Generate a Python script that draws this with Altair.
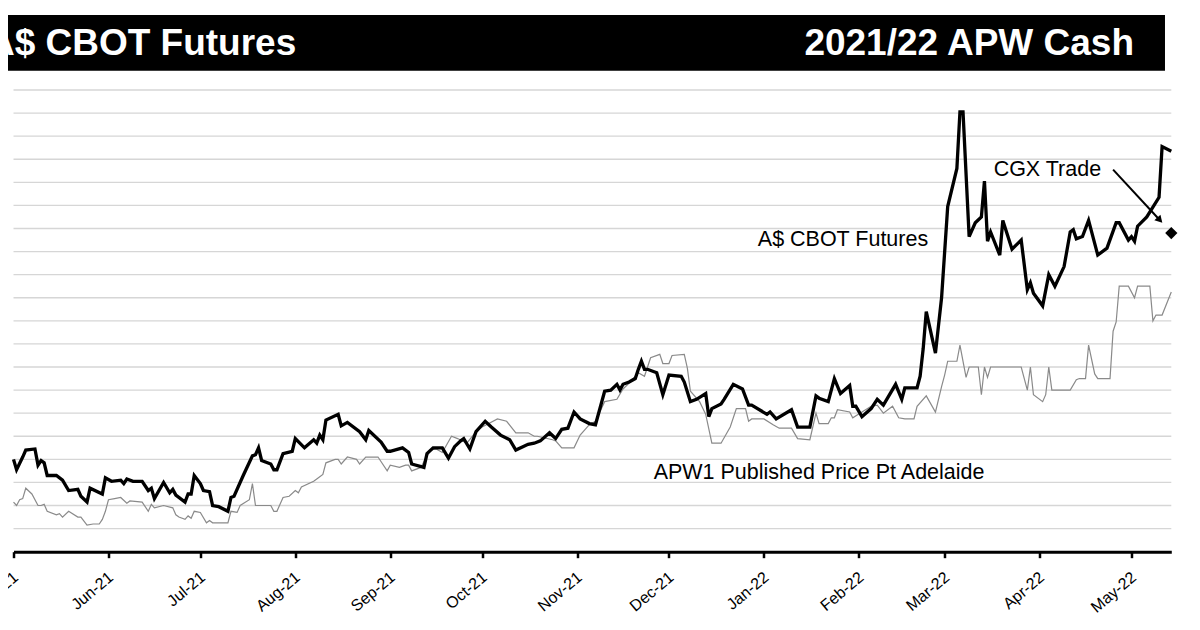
import altair as alt
import pandas as pd

# ---------------- data (A$/t) ----------------
fut_dates = [
    "2021-05-01", "2021-05-02", "2021-05-04", "2021-05-05", "2021-05-08", "2021-05-09", "2021-05-10",
    "2021-05-11", "2021-05-12", "2021-05-15", "2021-05-17", "2021-05-19", "2021-05-22", "2021-05-23",
    "2021-05-25", "2021-05-26", "2021-05-30", "2021-05-31", "2021-06-02", "2021-06-05", "2021-06-06",
    "2021-06-07", "2021-06-09", "2021-06-12", "2021-06-14", "2021-06-15", "2021-06-16", "2021-06-19",
    "2021-06-21", "2021-06-22", "2021-06-23", "2021-06-26", "2021-06-27", "2021-06-28", "2021-06-29",
    "2021-07-01", "2021-07-02", "2021-07-04", "2021-07-05", "2021-07-07", "2021-07-10", "2021-07-11",
    "2021-07-12", "2021-07-15", "2021-07-18", "2021-07-19", "2021-07-20", "2021-07-21", "2021-07-24",
    "2021-07-25", "2021-07-26", "2021-07-28", "2021-07-31", "2021-08-01", "2021-08-04", "2021-08-07",
    "2021-08-08", "2021-08-09", "2021-08-10", "2021-08-11", "2021-08-15", "2021-08-16", "2021-08-18",
    "2021-08-22", "2021-08-24", "2021-08-25", "2021-08-29", "2021-08-31", "2021-09-01", "2021-09-05",
    "2021-09-07", "2021-09-08", "2021-09-12", "2021-09-13", "2021-09-15", "2021-09-18", "2021-09-20",
    "2021-09-22", "2021-09-24", "2021-09-25", "2021-09-27", "2021-09-29", "2021-10-02", "2021-10-04",
    "2021-10-07", "2021-10-10", "2021-10-12", "2021-10-16", "2021-10-18", "2021-10-20", "2021-10-23",
    "2021-10-25", "2021-10-27", "2021-10-29", "2021-10-31", "2021-11-02", "2021-11-05", "2021-11-07",
    "2021-11-10", "2021-11-12", "2021-11-14", "2021-11-15", "2021-11-16", "2021-11-18", "2021-11-20",
    "2021-11-21", "2021-11-22", "2021-11-23", "2021-11-24", "2021-11-27", "2021-11-29", "2021-12-01",
    "2021-12-05", "2021-12-06", "2021-12-08", "2021-12-10", "2021-12-13", "2021-12-14", "2021-12-15",
    "2021-12-18", "2021-12-19", "2021-12-22", "2021-12-25", "2021-12-27", "2021-12-28", "2022-01-02",
    "2022-01-03", "2022-01-05", "2022-01-10", "2022-01-12", "2022-01-16", "2022-01-18", "2022-01-19",
    "2022-01-22", "2022-01-24", "2022-01-26", "2022-01-29", "2022-01-30", "2022-01-31", "2022-02-02",
    "2022-02-05", "2022-02-07", "2022-02-09", "2022-02-13", "2022-02-15", "2022-02-16", "2022-02-20",
    "2022-02-21", "2022-02-22", "2022-02-23", "2022-02-26", "2022-02-28", "2022-03-02", "2022-03-05",
    "2022-03-06", "2022-03-07", "2022-03-09", "2022-03-11", "2022-03-13", "2022-03-14", "2022-03-15",
    "2022-03-16", "2022-03-19", "2022-03-20", "2022-03-23", "2022-03-26", "2022-03-28", "2022-03-29",
    "2022-03-30", "2022-04-02", "2022-04-04", "2022-04-06", "2022-04-09", "2022-04-11", "2022-04-12",
    "2022-04-13", "2022-04-15", "2022-04-17", "2022-04-20", "2022-04-23", "2022-04-26", "2022-04-27",
    "2022-04-30", "2022-05-01", "2022-05-02", "2022-05-03", "2022-05-06", "2022-05-10", "2022-05-11",
    "2022-05-14",
]
fut_values = [
    330, 321, 332, 338, 339, 325, 329,
    327, 316, 316, 312, 303, 304, 298,
    293, 305, 300, 314, 311, 312, 309,
    313, 311, 311, 303, 305, 296, 310,
    301, 304, 299, 293, 300, 300, 316,
    309, 303, 302, 290, 289, 285, 297,
    298, 316, 333, 334, 340, 329, 326,
    321, 321, 335, 337, 348, 340, 347,
    344, 351, 347, 364, 369, 359, 362,
    354, 347, 355, 345, 337, 337, 340,
    336, 326, 323, 335, 340, 340, 331,
    341, 346, 348, 339, 354, 363, 358,
    351, 347, 338, 343, 344, 346, 353,
    348, 356, 357, 371, 365, 361, 360,
    389, 390, 395, 390, 395, 397, 400,
    408, 415, 408, 408, 405, 386, 403,
    402, 397, 380, 382, 387, 367, 374,
    378, 382, 395, 391, 377, 377, 369,
    371, 365, 373, 358, 358, 385, 383,
    380, 400, 387, 394, 376, 376, 367,
    374, 382, 377, 395, 382, 392, 392,
    402, 426, 458, 422, 470, 549, 582,
    631, 631, 523, 535, 540, 571, 519,
    527, 507, 537, 512, 520, 477, 483,
    474, 463, 490, 480, 497, 527, 529,
    521, 523, 537, 507, 513, 535, 535,
    520, 523, 519, 532, 540, 557, 601,
    597,
]

apw_dates = [
    "2021-05-01", "2021-05-02", "2021-05-03", "2021-05-04", "2021-05-05", "2021-05-07", "2021-05-09",
    "2021-05-10", "2021-05-11", "2021-05-12", "2021-05-15", "2021-05-16", "2021-05-17", "2021-05-19",
    "2021-05-22", "2021-05-23", "2021-05-25", "2021-05-27", "2021-05-29", "2021-05-30", "2021-05-31",
    "2021-06-01", "2021-06-03", "2021-06-05", "2021-06-07", "2021-06-08", "2021-06-12", "2021-06-14",
    "2021-06-15", "2021-06-16", "2021-06-19", "2021-06-22", "2021-06-23", "2021-06-24", "2021-06-26",
    "2021-06-27", "2021-06-28", "2021-06-29", "2021-07-01", "2021-07-03", "2021-07-04", "2021-07-05",
    "2021-07-10", "2021-07-11", "2021-07-13", "2021-07-14", "2021-07-17", "2021-07-18", "2021-07-19",
    "2021-07-24", "2021-07-25", "2021-07-26", "2021-07-28", "2021-07-30", "2021-08-01", "2021-08-02",
    "2021-08-03", "2021-08-07", "2021-08-08", "2021-08-10", "2021-08-11", "2021-08-14", "2021-08-15",
    "2021-08-16", "2021-08-18", "2021-08-21", "2021-08-22", "2021-08-24", "2021-08-28", "2021-08-31",
    "2021-09-01", "2021-09-04", "2021-09-06", "2021-09-07", "2021-09-08", "2021-09-11", "2021-09-14",
    "2021-09-16", "2021-09-18", "2021-09-21", "2021-09-23", "2021-09-26", "2021-09-29", "2021-10-01",
    "2021-10-06", "2021-10-09", "2021-10-12", "2021-10-16", "2021-10-18", "2021-10-19", "2021-10-24",
    "2021-10-25", "2021-10-27", "2021-10-31", "2021-11-02", "2021-11-05", "2021-11-07", "2021-11-10",
    "2021-11-14", "2021-11-16", "2021-11-18", "2021-11-21", "2021-11-23", "2021-11-25", "2021-11-28",
    "2021-11-29", "2021-12-01", "2021-12-02", "2021-12-06", "2021-12-07", "2021-12-08", "2021-12-11",
    "2021-12-13", "2021-12-15", "2021-12-18", "2021-12-21", "2021-12-23", "2021-12-26", "2021-12-27",
    "2021-12-28", "2022-01-01", "2022-01-04", "2022-01-06", "2022-01-10", "2022-01-12", "2022-01-16",
    "2022-01-18", "2022-01-19", "2022-01-22", "2022-01-23", "2022-01-24", "2022-01-25", "2022-01-29",
    "2022-01-30", "2022-02-02", "2022-02-05", "2022-02-07", "2022-02-09", "2022-02-12", "2022-02-14",
    "2022-02-16", "2022-02-19", "2022-02-20", "2022-02-23", "2022-02-26", "2022-02-28", "2022-03-01",
    "2022-03-02", "2022-03-05", "2022-03-06", "2022-03-08", "2022-03-09", "2022-03-12", "2022-03-13",
    "2022-03-14", "2022-03-15", "2022-03-16", "2022-03-26", "2022-03-28", "2022-03-29", "2022-03-30",
    "2022-04-02", "2022-04-03", "2022-04-04", "2022-04-05", "2022-04-11", "2022-04-13", "2022-04-14",
    "2022-04-16", "2022-04-17", "2022-04-19", "2022-04-20", "2022-04-24", "2022-04-25", "2022-04-26",
    "2022-04-27", "2022-04-30", "2022-05-02", "2022-05-03", "2022-05-07", "2022-05-08", "2022-05-09",
    "2022-05-11", "2022-05-14",
]
apw_values = [
    293, 290, 295, 296, 305, 300, 290,
    290, 291, 285, 282, 283, 280, 285,
    280, 280, 273, 274, 274, 278, 285,
    295, 296, 297, 292, 294, 293, 285,
    291, 288, 290, 288, 282, 280, 278,
    281, 279, 285, 284, 275, 277, 275,
    275, 285, 284, 290, 295, 309, 290,
    290, 285, 285, 297, 298, 303, 301,
    306, 311, 313, 317, 327, 330, 330,
    326, 332, 330, 326, 332, 332, 320,
    325, 323, 325, 325, 320, 323, 338,
    339, 336, 350, 348, 344, 354, 358,
    365, 363, 353, 353, 350, 350, 347,
    346, 340, 340, 351, 360, 363, 380,
    382, 391, 396, 405, 402, 418, 421,
    413, 413, 420, 421, 409, 389, 380,
    369, 344, 344, 358, 374, 374, 363,
    365, 365, 360, 357, 357, 348, 347,
    370, 361, 361, 366, 366, 373, 371,
    366, 371, 376, 377, 370, 376, 366,
    365, 365, 376, 385, 371, 393, 403,
    415, 415, 429, 401, 410, 410, 386,
    410, 401, 410, 410, 390, 410, 386,
    380, 386, 410, 390, 390, 399, 400,
    400, 429, 404, 400, 400, 441, 449,
    480, 480, 470, 480, 480, 450, 455,
    455, 475,
]

month_ticks = [
    "2021-05-01", "2021-06-01", "2021-07-01", "2021-08-01", "2021-09-01", "2021-10-01", "2021-11-01",
    "2021-12-01", "2022-01-01", "2022-02-01", "2022-03-01", "2022-04-01", "2022-05-01",
]
grid_values = [270, 290, 310, 330, 350, 370, 390, 410, 430, 450,
               470, 490, 510, 530, 550, 570, 590, 610, 630, 650]

label_texts = ["A$ CBOT Futures", "CGX Trade", "APW1 Published Price Pt Adelaide"]
label_dates = ["2021-12-30", "2022-03-17", "2021-11-26"]
label_values = [520, 581, 318]

cgx_trade_dates = ["2022-05-14"]
cgx_trade_values = [526]

arrow_from = ["2022-04-25", 581]
arrow_to = ["2022-05-10", 538]

header_left = "A$ CBOT Futures"
header_right = "2021/22 APW Cash"

# ---------------- chart ----------------
FONT = "Liberation Sans"


def dt(s):
    return alt.DateTime(year=int(s[:4]), month=int(s[5:7]), date=int(s[8:10]), utc=True)


fut_df = pd.DataFrame({"date": fut_dates, "value": fut_values})
apw_df = pd.DataFrame({"date": apw_dates, "value": apw_values})
lab_df = pd.DataFrame({"date": label_dates, "value": label_values, "text": label_texts})
cgx_df = pd.DataFrame({"date": cgx_trade_dates, "value": cgx_trade_values})
arr_df = pd.DataFrame({"date": [arrow_from[0]], "value": [arrow_from[1]],
                       "date2": [arrow_to[0]], "value2": [arrow_to[1]]})
head_df = pd.DataFrame({"date": [arrow_to[0]], "value": [arrow_to[1]]})
grid_df = pd.DataFrame({"value": grid_values})
title_df = pd.DataFrame({"left": [header_left], "right": [header_right]})

x_scale = alt.Scale(type="utc", domain=[dt("2021-05-01"), dt("2022-05-14")])
y_scale = alt.Scale(domain=[250, 650], nice=False, zero=False)

x_axis = alt.Axis(
    values=[dt(s) for s in month_ticks],
    labelExpr="utcFormat(datum.value, '%b-%y')",
    labelAngle=320, labelAlign="right", labelBaseline="top",
    labelFont=FONT, labelFontSize=16, labelColor="#000", labelPadding=11, labelOffset=-3,
    labelOverlap=False, labelFlush=False, labelBound=False,
    tickSize=6, tickWidth=2.5, tickColor="#000",
    domainColor="#000", domainWidth=3, grid=False, title=None,
)

X = alt.X("date:T", scale=x_scale, axis=x_axis)
Y = alt.Y("value:Q", scale=y_scale, axis=None)

grid = alt.Chart(grid_df).mark_rule(color="#d6d6d6", strokeWidth=1.3).encode(y=Y)

apw_line = alt.Chart(apw_df).mark_line(color="#8a8a8a", strokeWidth=1.2).encode(x=X, y=Y)
fut_line = alt.Chart(fut_df).mark_line(color="#000", strokeWidth=3.3).encode(x=X, y=Y)

cgx_point = alt.Chart(cgx_df).mark_point(shape="diamond", filled=True, size=150, color="#000",
                                         opacity=1).encode(x=X, y=Y)

arrow_line = alt.Chart(arr_df).mark_rule(color="#000", strokeWidth=2).encode(
    x=X, y=Y, x2="date2:T", y2="value2:Q")
arrow_head = alt.Chart(head_df).mark_point(shape="triangle", filled=True, size=70, angle=137,
                                           color="#000", opacity=1).encode(x=X, y=Y)

labels = alt.Chart(lab_df).mark_text(font=FONT, fontSize=21.5, align="left", baseline="middle",
                                     color="#000").encode(x=X, y=Y, text="text:N")

header_bar = alt.Chart(title_df).mark_rect(color="#000").encode(
    x=alt.value(-20), x2=alt.value(1151.5), y=alt.value(-75), y2=alt.value(-19.3))
header_l = alt.Chart(title_df).mark_text(font=FONT, fontSize=37, fontWeight="bold", color="#fff",
                                         align="left", baseline="alphabetic").encode(
    x=alt.value(-25.5), y=alt.value(-35), text="left:N")
header_r = alt.Chart(title_df).mark_text(font=FONT, fontSize=37, fontWeight="bold", color="#fff",
                                         align="right", baseline="alphabetic").encode(
    x=alt.value(1120.5), y=alt.value(-35), text="right:N")

chart = alt.layer(
    grid, apw_line, fut_line, cgx_point, arrow_line, arrow_head, labels,
    header_bar, header_l, header_r
).properties(
    width=1157.8, height=461.7,
    autosize=alt.AutoSizeParams(type="none"),
    padding={"left": 5.5, "top": 82, "right": 16.7, "bottom": 78},
    background="#ffffff",
).configure_view(stroke=None)

chart.save("out.html", embed_options={"renderer": "svg", "actions": False})
